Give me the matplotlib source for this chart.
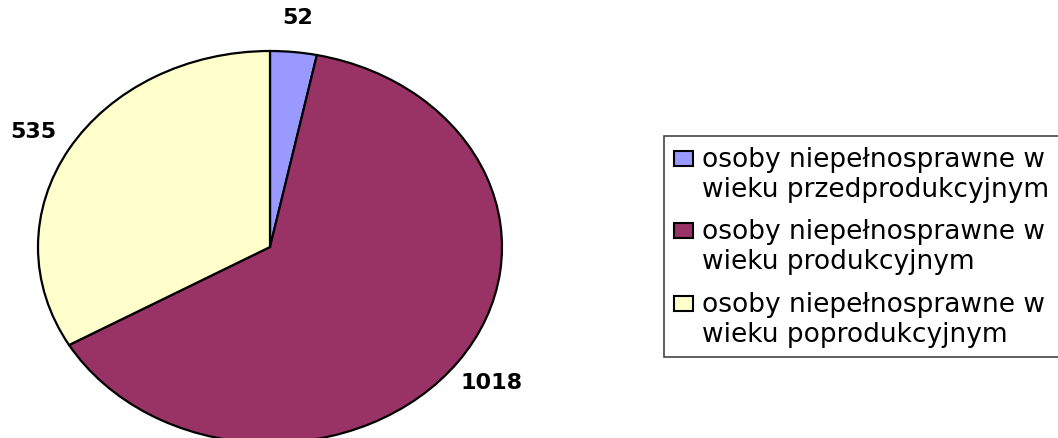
import matplotlib
matplotlib.use("Agg")
import matplotlib.pyplot as plt
from matplotlib.patches import Rectangle
from matplotlib.legend_handler import HandlerPatch

categories = [
    "osoby niepełnosprawne w\nwieku przedprodukcyjnym",
    "osoby niepełnosprawne w\nwieku produkcyjnym",
    "osoby niepełnosprawne w\nwieku poprodukcyjnym",
]
values = [52, 1018, 535]
colors = ["#9999FF", "#993366", "#FFFFCC"]

W, H = 1058, 439
LEG_FS = 19


def first_line_box(legend, orig_handle, xdescent, ydescent, width, height, fontsize):
    # put the colour box next to the first line of a two-line label
    return Rectangle((-xdescent, -ydescent + 0.62 * fontsize), width, height)


fig = plt.figure(figsize=(W / 100, H / 100), dpi=100)
fig.patch.set_facecolor("white")

# pie drawn as an ellipse: axes box = ellipse bounding box
ax = fig.add_axes([38 / W, -5 / H, 464 / W, 392 / H])
wedges, texts = ax.pie(
    values,
    colors=colors,
    labels=[str(v) for v in values],
    labeldistance=1.18,
    startangle=90,
    counterclock=False,
    wedgeprops=dict(edgecolor="black", linewidth=1.6),
    textprops=dict(fontsize=16, fontweight="bold", family="DejaVu Sans"),
)
for t in texts:
    t.set_ha("center")
    t.set_va("center")
ax.set_aspect("auto")
ax.set_xlim(-1, 1)
ax.set_ylim(-1, 1)
for w in wedges:
    w.set_clip_on(False)

leg = fig.legend(
    wedges,
    categories,
    loc="upper left",
    bbox_to_anchor=(664 / W, 1 - 137 / H),
    frameon=True,
    fancybox=False,
    framealpha=1,
    edgecolor="#444444",
    prop=dict(family="DejaVu Sans", size=LEG_FS),
    handlelength=0.7,
    handleheight=0.5,
    handletextpad=0.35,
    labelspacing=0.62,
    borderpad=0.38,
    borderaxespad=0,
    handler_map={w: HandlerPatch(patch_func=first_line_box) for w in wedges},
)
for t in leg.get_texts():
    t.set_linespacing(1.2)
leg.get_frame().set_linewidth(1.2)
for h in leg.legend_handles:
    h.set_edgecolor("black")
    h.set_linewidth(1.5)

fig.savefig("out.png", dpi=100)
